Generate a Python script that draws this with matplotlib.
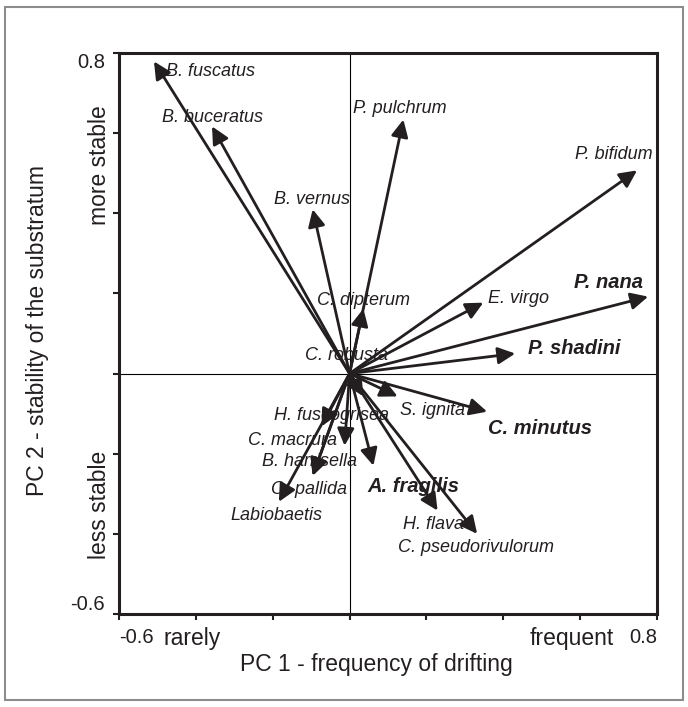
import matplotlib
matplotlib.use("Agg")
import matplotlib.pyplot as plt
from matplotlib.patches import Rectangle

# ---------------- data ----------------
species = ["B. fuscatus", "B. buceratus", "B. vernus", "P. pulchrum", "P. bifidum",
           "P. nana", "E. virgo", "P. shadini", "C. dipterum", "C. robusta",
           "S. ignita", "C. minutus", "H. fuscogrisea", "C. macrura", "B. harrisella",
           "O. pallida", "A. fragilis", "Labiobaetis", "H. flava", "C. pseudorivulorum"]
pc1 = [-0.509, -0.358, -0.096, 0.140, 0.748,
       0.777, 0.348, 0.431, 0.036, 0.036,
       0.125, 0.358, -0.073, -0.013, -0.096,
       -0.096, 0.062, -0.184, 0.229, 0.332]
pc2 = [0.779, 0.617, 0.410, 0.634, 0.507,
       0.192, 0.177, 0.050, 0.162, -0.057,
       -0.057, -0.095, -0.132, -0.180, -0.255,
       -0.255, -0.230, -0.320, -0.342, -0.400]
bold_species = ["P. nana", "P. shadini", "C. minutus", "A. fragilis"]
x_ticklabels = {-0.6: "-0.6", 0.8: "0.8"}
y_ticklabels = {-0.6: "-0.6", 0.8: "0.8"}

# ---------------- layout (label anchors: left edge, vertical centre) ----------------
label_pos = {
    "B. fuscatus": (-0.478, 0.754), "B. buceratus": (-0.488, 0.639),
    "B. vernus": (-0.197, 0.434), "P. pulchrum": (0.008, 0.662),
    "P. bifidum": (0.587, 0.547), "P. nana": (0.584, 0.227),
    "E. virgo": (0.361, 0.187), "P. shadini": (0.465, 0.062),
    "C. dipterum": (-0.086, 0.182), "C. robusta": (-0.117, 0.045),
    "S. ignita": (0.132, -0.092), "C. minutus": (0.361, -0.137),
    "H. fuscogrisea": (-0.197, -0.105), "C. macrura": (-0.265, -0.167),
    "B. harrisella": (-0.229, -0.220), "O. pallida": (-0.205, -0.290),
    "A. fragilis": (0.047, -0.282), "Labiobaetis": (-0.309, -0.355),
    "H. flava": (0.140, -0.377), "C. pseudorivulorum": (0.125, -0.435),
}

INK = "#231f20"
plt.rcParams['font.family'] = ['Liberation Sans', 'DejaVu Sans']

fig = plt.figure(figsize=(6.88, 7.07), dpi=100)
ax = fig.add_axes([119 / 688, 1 - 614 / 707, (657 - 119) / 688, (614 - 53) / 707])
ax.set_xlim(-0.6, 0.8)
ax.set_ylim(-0.6, 0.8)

# outer frame
fig.patches.append(Rectangle((5 / 688, 7 / 707), 678 / 688, 693 / 707, transform=fig.transFigure,
                             fill=False, edgecolor="#8c8c8c", lw=1.5))

ax.axhline(0, color="black", lw=0.8, zorder=1)
ax.axvline(0, color="black", lw=0.8, zorder=1)

for name, x, y in zip(species, pc1, pc2):
    ax.annotate("", xy=(x, y), xytext=(0, 0),
                arrowprops=dict(arrowstyle="-|>,head_length=0.65,head_width=0.32", color=INK,
                                lw=2.0, shrinkA=0, shrinkB=0, mutation_scale=16), zorder=3)
for name in species:
    lx, ly = label_pos[name]
    if name in bold_species:
        ax.text(lx, ly, name, fontsize=14.5, fontweight="bold", style="italic",
                ha="left", va="center", color=INK, zorder=4)
    else:
        ax.text(lx, ly, name, fontsize=13, style="italic",
                ha="left", va="center", color=INK, zorder=2)

ticks = [-0.6, -0.4, -0.2, 0.0, 0.2, 0.4, 0.6, 0.8]
ax.set_xticks(ticks)
ax.set_yticks(ticks)
ax.set_xticklabels([x_ticklabels.get(round(t, 1), "") for t in ticks], fontsize=14.5, color=INK)
ax.set_yticklabels([y_ticklabels.get(round(t, 1), "") for t in ticks], fontsize=14.5, color=INK)
xl = ax.get_xticklabels()
xl[0].set_ha("left")
xl[-1].set_ha("right")
yl = ax.get_yticklabels()
yl[0].set_va("bottom")
yl[-1].set_va("top")
ax.tick_params(direction="out", length=4, width=1.5, color=INK, pad=6)
for s in ax.spines.values():
    s.set_linewidth(2.2)
    s.set_color(INK)

fig.text(192 / 688, 1 - 638 / 707, "rarely", fontsize=16.5, ha="center", va="center", color=INK)
fig.text(572 / 688, 1 - 638 / 707, "frequent", fontsize=16.5, ha="center", va="center", color=INK)
fig.text(376 / 688, 1 - 664 / 707, "PC 1 - frequency of drifting", fontsize=16.5,
         ha="center", va="center", color=INK)
fig.text(38 / 688, 1 - 330 / 707, "PC 2 - stability of the substratum", fontsize=16.5,
         ha="center", va="center", rotation=90, color=INK)
fig.text(100 / 688, 1 - 165 / 707, "more stable", fontsize=16.5, ha="center", va="center",
         rotation=90, color=INK)
fig.text(100 / 688, 1 - 505 / 707, "less stable", fontsize=16.5, ha="center", va="center",
         rotation=90, color=INK)

fig.savefig("out.png", dpi=100)
